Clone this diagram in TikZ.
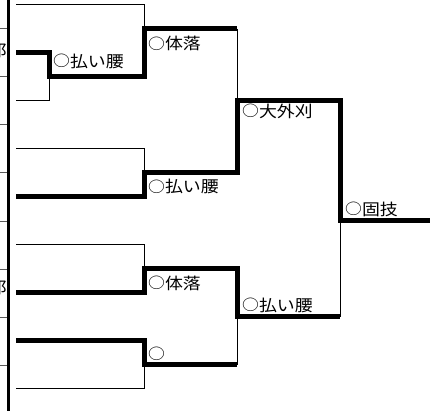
\documentclass[tikz,border=0pt]{standalone}
\usepackage{fontspec}
\newfontfamily\jpfont[FakeStretch=1.12]{Noto Sans CJK JP}
\newcommand{\winMark}{\raisebox{0.5pt}{\fontsize{15pt}{15pt}\selectfont ○}}

\begin{document}
\begin{tikzpicture}[x=1pt,y=-1pt,
  winLine/.style={lineColor, line width=5pt, line join=miter},
  loseLine/.style={lineColor, line width=1pt},
  result/.style={anchor=west, inner sep=0pt, font=\jpfont\fontsize{16pt}{16pt}\selectfont}]
% Colors
\definecolor{lineColor}{RGB}{0,0,0}
\definecolor{gridColor}{RGB}{90,90,90}
\useasboundingbox (0,0) rectangle (440,414);
\clip (0,0) rectangle (440,414);
% Name column (cut off)
\foreach \y in {29,77,125,173,222,270,318,366}
  \draw[gridColor, line width=1pt] (0,\y) -- (7,\y);
\draw[lineColor, line width=3pt] (8.5,0) -- (8.5,411);
\node[result, anchor=east] (n2) at (7,50) {郎};
\node[result, anchor=east] (n7) at (7,287) {郎};
% Entries
\coordinate (e1) at (16,  5); % 1
\coordinate (e2) at (16, 53); % 2
\coordinate (e3) at (16,101); % 3
\coordinate (e4) at (16,149); % 4
\coordinate (e5) at (16,197); % 5
\coordinate (e6) at (16,245); % 6
\coordinate (e7) at (16,293); % 7
\coordinate (e8) at (16,341); % 8
\coordinate (e9) at (16,389); % 9
% Junctions
\coordinate (r1a) at ( 49, 77); % 2-3
\coordinate (r2a) at (144, 29); % 1-(2-3)
\coordinate (r2b) at (144,173); % 4-5
\coordinate (r2c) at (144,269); % 6-7
\coordinate (r2d) at (144,365); % 8-9
\coordinate (r3a) at (237,101);
\coordinate (r3b) at (237,317);
\coordinate (r4)  at (340,221); % final
\coordinate (fin) at (430,221);
% Losing sides
\draw[loseLine] (e1) -| (r2a);
\draw[loseLine] (e3) -| (r1a);
\draw[loseLine] (e4) -| (r2b);
\draw[loseLine] (e6) -| (r2c);
\draw[loseLine] (e9) -| (r2d);
\draw[loseLine] (r2a -| r3a) -- (r3a);
\draw[loseLine] (r2d -| r3b) -- (r3b);
\draw[loseLine] (r4) -- (r3b -| r4);
% Winning sides
\draw[winLine] (e2) -| (r1a) -| (r2a) -- (r2a -| r3a);
\draw[winLine] (e5) -| (r2b) -| (r3a) -| (r4) -- (fin);
\draw[winLine] (e7) -| (r2c) -| (r3b) -- (r3b -| r4);
\draw[winLine] (e8) -| (r2d) -- (r2d -| r3b);
% Results
\node[result] (t1) at ( 53, 61)   {\winMark 払い腰};
\node[result] (t2) at (148, 43.5) {\winMark 体落};
\node[result] (t3) at (148,186.5) {\winMark 払い腰};
\node[result] (t4) at (242,111)   {\winMark 大外刈};
\node[result] (t5) at (345,209)   {\winMark 固技};
\node[result] (t6) at (148,283)   {\winMark 体落};
\node[result] (t7) at (242,305)   {\winMark 払い腰};
\node[result] (t8) at (148,354)   {\winMark};
\end{tikzpicture}
\end{document}
